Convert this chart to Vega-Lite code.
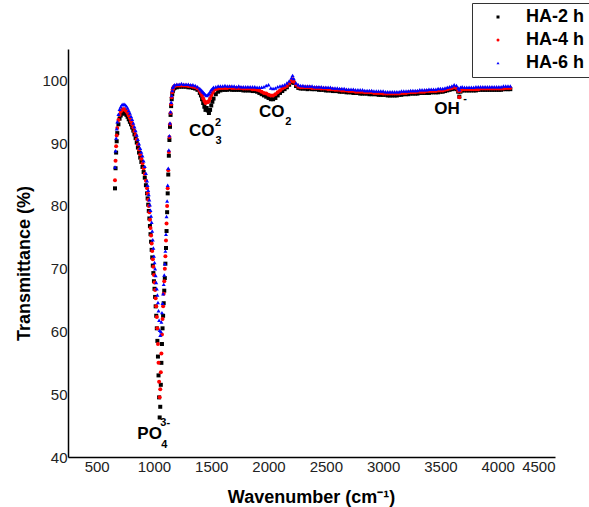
{
"$schema": "https://vega.github.io/schema/vega-lite/v6.json",
"width": 487, "height": 408,
"autosize": {"type": "none"},
"padding": {"left": 68, "top": 49, "right": 34, "bottom": 50},
"background": "white",
"config": {
  "view": {"stroke": null},
  "font": "Liberation Sans",
  "axis": {"grid": false, "ticks": false, "domainColor": "#000", "domainWidth": 1.5, "labelFont": "Liberation Sans", "labelFontSize": 15, "labelColor": "#222", "titleFont": "Liberation Sans", "titleFontSize": 18, "titleFontWeight": "bold", "titleColor": "#000"},
  "legend": {"strokeColor": "#333", "padding": 5, "labelFont": "Liberation Sans", "labelFontSize": 18, "labelFontWeight": "bold", "labelColor": "#000", "symbolSize": 9, "rowPadding": 5, "symbolOffset": 12, "labelOffset": 19, "fillColor": "white"}
},
"datasets": {
"spec": [
{"w":660,"h2":82.8,"h4":84.1,"h6":86.2},
{"w":665,"h2":86.0,"h4":87.2,"h6":88.8},
{"w":670,"h2":88.5,"h4":89.5,"h6":90.8},
{"w":675,"h2":90.3,"h4":91.2,"h6":92.3},
{"w":680,"h2":91.6,"h4":92.4,"h6":93.4},
{"w":690,"h2":93.0,"h4":93.7,"h6":94.6},
{"w":700,"h2":93.9,"h4":94.5,"h6":95.4},
{"w":710,"h2":94.4,"h4":95.0,"h6":95.8},
{"w":720,"h2":94.7,"h4":95.3,"h6":96.1},
{"w":730,"h2":94.8,"h4":95.4,"h6":96.2},
{"w":740,"h2":94.8,"h4":95.4,"h6":96.2},
{"w":750,"h2":94.7,"h4":95.3,"h6":96.1},
{"w":760,"h2":94.5,"h4":95.1,"h6":95.9},
{"w":770,"h2":94.2,"h4":94.8,"h6":95.6},
{"w":780,"h2":93.8,"h4":94.4,"h6":95.2},
{"w":790,"h2":93.4,"h4":94.0,"h6":94.8},
{"w":800,"h2":93.0,"h4":93.5,"h6":94.3},
{"w":810,"h2":92.5,"h4":93.0,"h6":93.8},
{"w":820,"h2":92.0,"h4":92.5,"h6":93.2},
{"w":830,"h2":91.4,"h4":91.9,"h6":92.6},
{"w":840,"h2":90.8,"h4":91.3,"h6":92.0},
{"w":850,"h2":90.1,"h4":90.6,"h6":91.3},
{"w":860,"h2":89.3,"h4":89.8,"h6":90.6},
{"w":870,"h2":88.5,"h4":89.0,"h6":89.9},
{"w":880,"h2":87.7,"h4":88.2,"h6":89.2},
{"w":890,"h2":87.0,"h4":87.5,"h6":88.6},
{"w":900,"h2":86.2,"h4":86.8,"h6":88.0},
{"w":910,"h2":85.4,"h4":86.0,"h6":87.2},
{"w":920,"h2":84.5,"h4":85.1,"h6":86.3},
{"w":930,"h2":83.3,"h4":84.0,"h6":85.2},
{"w":940,"h2":82.0,"h4":82.8,"h6":84.0},
{"w":945,"h2":81.2,"h4":82.0,"h6":83.3},
{"w":950,"h2":80.2,"h4":81.0,"h6":82.5},
{"w":955,"h2":79.2,"h4":80.0,"h6":81.8},
{"w":960,"h2":78.0,"h4":79.0,"h6":81.0},
{"w":965,"h2":76.8,"h4":77.8,"h6":80.2},
{"w":970,"h2":75.5,"h4":76.5,"h6":79.3},
{"w":975,"h2":74.3,"h4":75.3,"h6":78.4},
{"w":980,"h2":73.0,"h4":74.0,"h6":77.4},
{"w":985,"h2":71.8,"h4":72.8,"h6":76.0},
{"w":990,"h2":70.5,"h4":71.5,"h6":74.6},
{"w":995,"h2":69.3,"h4":70.3,"h6":73.3},
{"w":1000,"h2":68.0,"h4":69.0,"h6":72.0},
{"w":1005,"h2":66.8,"h4":67.8,"h6":71.0},
{"w":1010,"h2":65.5,"h4":66.6,"h6":70.0},
{"w":1015,"h2":64.0,"h4":65.3,"h6":68.9},
{"w":1020,"h2":62.5,"h4":64.0,"h6":67.8},
{"w":1025,"h2":60.5,"h4":62.3,"h6":66.8},
{"w":1030,"h2":58.5,"h4":60.5,"h6":65.8},
{"w":1035,"h2":56.0,"h4":58.0,"h6":64.6},
{"w":1040,"h2":53.0,"h4":55.0,"h6":63.3},
{"w":1045,"h2":49.5,"h4":52.0,"h6":61.8},
{"w":1050,"h2":46.3,"h4":49.5,"h6":60.2},
{"w":1055,"h2":48.0,"h4":50.8,"h6":59.4},
{"w":1060,"h2":51.5,"h4":53.5,"h6":60.0},
{"w":1065,"h2":55.0,"h4":56.5,"h6":61.5},
{"w":1070,"h2":58.0,"h4":59.5,"h6":63.0},
{"w":1075,"h2":60.5,"h4":62.0,"h6":64.5},
{"w":1080,"h2":62.5,"h4":64.0,"h6":66.0},
{"w":1085,"h2":64.5,"h4":66.0,"h6":67.5},
{"w":1090,"h2":66.5,"h4":68.0,"h6":69.0},
{"w":1095,"h2":68.5,"h4":70.0,"h6":70.8},
{"w":1100,"h2":70.8,"h4":72.0,"h6":72.8},
{"w":1105,"h2":73.3,"h4":74.5,"h6":75.5},
{"w":1110,"h2":76.0,"h4":77.2,"h6":78.3},
{"w":1115,"h2":79.0,"h4":80.0,"h6":80.8},
{"w":1120,"h2":82.0,"h4":82.8,"h6":83.3},
{"w":1125,"h2":85.0,"h4":85.7,"h6":86.0},
{"w":1130,"h2":88.0,"h4":88.6,"h6":88.9},
{"w":1135,"h2":90.5,"h4":91.0,"h6":91.2},
{"w":1140,"h2":92.6,"h4":93.0,"h6":93.2},
{"w":1145,"h2":94.5,"h4":94.8,"h6":95.0},
{"w":1150,"h2":95.9,"h4":96.2,"h6":96.5},
{"w":1155,"h2":97.0,"h4":97.3,"h6":97.6},
{"w":1160,"h2":97.8,"h4":98.1,"h6":98.4},
{"w":1165,"h2":98.3,"h4":98.6,"h6":98.9},
{"w":1170,"h2":98.6,"h4":98.9,"h6":99.1},
{"w":1180,"h2":98.8,"h4":99.1,"h6":99.3},
{"w":1200,"h2":98.9,"h4":99.2,"h6":99.4},
{"w":1220,"h2":99.0,"h4":99.2,"h6":99.4},
{"w":1240,"h2":99.0,"h4":99.2,"h6":99.5},
{"w":1260,"h2":99.0,"h4":99.2,"h6":99.4},
{"w":1280,"h2":99.0,"h4":99.2,"h6":99.4},
{"w":1300,"h2":98.9,"h4":99.1,"h6":99.4},
{"w":1320,"h2":98.9,"h4":99.1,"h6":99.3},
{"w":1340,"h2":98.8,"h4":99.0,"h6":99.3},
{"w":1360,"h2":98.7,"h4":98.9,"h6":99.2},
{"w":1380,"h2":98.5,"h4":98.7,"h6":99.0},
{"w":1400,"h2":98.0,"h4":98.3,"h6":98.7},
{"w":1410,"h2":97.6,"h4":98.0,"h6":98.5},
{"w":1420,"h2":97.0,"h4":97.6,"h6":98.3},
{"w":1430,"h2":96.4,"h4":97.1,"h6":98.1},
{"w":1440,"h2":95.8,"h4":96.7,"h6":97.9},
{"w":1450,"h2":95.3,"h4":96.4,"h6":97.7},
{"w":1460,"h2":95.6,"h4":96.5,"h6":97.6},
{"w":1470,"h2":95.2,"h4":96.5,"h6":97.7},
{"w":1480,"h2":94.8,"h4":96.7,"h6":97.9},
{"w":1490,"h2":95.3,"h4":97.1,"h6":98.2},
{"w":1500,"h2":96.0,"h4":97.6,"h6":98.5},
{"w":1510,"h2":96.6,"h4":98.0,"h6":98.7},
{"w":1520,"h2":97.1,"h4":98.3,"h6":98.9},
{"w":1540,"h2":97.8,"h4":98.6,"h6":99.0},
{"w":1560,"h2":98.2,"h4":98.7,"h6":99.1},
{"w":1580,"h2":98.4,"h4":98.8,"h6":99.1},
{"w":1600,"h2":98.5,"h4":98.8,"h6":99.1},
{"w":1620,"h2":98.5,"h4":98.8,"h6":99.2},
{"w":1640,"h2":98.5,"h4":98.8,"h6":99.1},
{"w":1660,"h2":98.6,"h4":98.9,"h6":99.1},
{"w":1680,"h2":98.5,"h4":98.8,"h6":99.1},
{"w":1700,"h2":98.5,"h4":98.8,"h6":99.1},
{"w":1720,"h2":98.5,"h4":98.8,"h6":99.0},
{"w":1740,"h2":98.5,"h4":98.8,"h6":99.1},
{"w":1760,"h2":98.5,"h4":98.8,"h6":99.0},
{"w":1780,"h2":98.4,"h4":98.7,"h6":99.0},
{"w":1800,"h2":98.4,"h4":98.7,"h6":99.0},
{"w":1820,"h2":98.4,"h4":98.7,"h6":99.0},
{"w":1840,"h2":98.4,"h4":98.7,"h6":99.0},
{"w":1860,"h2":98.3,"h4":98.6,"h6":99.0},
{"w":1880,"h2":98.3,"h4":98.6,"h6":99.0},
{"w":1900,"h2":98.2,"h4":98.5,"h6":98.9},
{"w":1920,"h2":98.0,"h4":98.4,"h6":98.9},
{"w":1940,"h2":97.8,"h4":98.2,"h6":98.9},
{"w":1960,"h2":97.6,"h4":98.0,"h6":99.0},
{"w":1980,"h2":97.4,"h4":97.9,"h6":99.2},
{"w":2000,"h2":97.2,"h4":97.7,"h6":99.3},
{"w":2020,"h2":97.0,"h4":97.6,"h6":98.8},
{"w":2040,"h2":97.0,"h4":97.6,"h6":98.7},
{"w":2060,"h2":97.2,"h4":97.8,"h6":98.8},
{"w":2080,"h2":97.6,"h4":98.1,"h6":99.0},
{"w":2100,"h2":98.0,"h4":98.4,"h6":99.1},
{"w":2120,"h2":98.3,"h4":98.7,"h6":99.2},
{"w":2140,"h2":98.6,"h4":98.9,"h6":99.3},
{"w":2160,"h2":98.9,"h4":99.1,"h6":99.6},
{"w":2180,"h2":99.3,"h4":99.5,"h6":99.9},
{"w":2200,"h2":99.7,"h4":99.9,"h6":100.4},
{"w":2210,"h2":99.9,"h4":100.2,"h6":100.8},
{"w":2220,"h2":99.6,"h4":99.8,"h6":100.3},
{"w":2240,"h2":99.1,"h4":99.3,"h6":99.6},
{"w":2260,"h2":98.8,"h4":99.0,"h6":99.3},
{"w":2280,"h2":98.7,"h4":98.9,"h6":99.2},
{"w":2300,"h2":98.7,"h4":98.9,"h6":99.2},
{"w":2320,"h2":98.7,"h4":98.9,"h6":99.1},
{"w":2340,"h2":98.6,"h4":98.9,"h6":99.1},
{"w":2360,"h2":98.7,"h4":98.9,"h6":99.1},
{"w":2380,"h2":98.6,"h4":98.8,"h6":99.1},
{"w":2400,"h2":98.6,"h4":98.8,"h6":99.0},
{"w":2420,"h2":98.6,"h4":98.8,"h6":99.0},
{"w":2440,"h2":98.5,"h4":98.8,"h6":99.0},
{"w":2460,"h2":98.5,"h4":98.7,"h6":99.0},
{"w":2480,"h2":98.5,"h4":98.7,"h6":98.9},
{"w":2500,"h2":98.4,"h4":98.7,"h6":98.9},
{"w":2520,"h2":98.4,"h4":98.6,"h6":98.9},
{"w":2540,"h2":98.4,"h4":98.6,"h6":98.9},
{"w":2560,"h2":98.3,"h4":98.6,"h6":98.8},
{"w":2580,"h2":98.3,"h4":98.5,"h6":98.8},
{"w":2600,"h2":98.3,"h4":98.5,"h6":98.8},
{"w":2620,"h2":98.2,"h4":98.5,"h6":98.7},
{"w":2640,"h2":98.2,"h4":98.4,"h6":98.7},
{"w":2660,"h2":98.2,"h4":98.4,"h6":98.7},
{"w":2680,"h2":98.1,"h4":98.4,"h6":98.6},
{"w":2700,"h2":98.1,"h4":98.3,"h6":98.6},
{"w":2720,"h2":98.1,"h4":98.3,"h6":98.6},
{"w":2740,"h2":98.0,"h4":98.3,"h6":98.6},
{"w":2760,"h2":98.0,"h4":98.2,"h6":98.5},
{"w":2780,"h2":98.0,"h4":98.2,"h6":98.5},
{"w":2800,"h2":97.9,"h4":98.2,"h6":98.5},
{"w":2820,"h2":97.9,"h4":98.2,"h6":98.5},
{"w":2840,"h2":97.9,"h4":98.1,"h6":98.4},
{"w":2860,"h2":97.9,"h4":98.1,"h6":98.4},
{"w":2880,"h2":97.8,"h4":98.1,"h6":98.4},
{"w":2900,"h2":97.8,"h4":98.1,"h6":98.4},
{"w":2920,"h2":97.8,"h4":98.0,"h6":98.3},
{"w":2940,"h2":97.8,"h4":98.0,"h6":98.3},
{"w":2960,"h2":97.7,"h4":98.0,"h6":98.3},
{"w":2980,"h2":97.7,"h4":98.0,"h6":98.3},
{"w":3000,"h2":97.7,"h4":97.9,"h6":98.3},
{"w":3020,"h2":97.7,"h4":97.9,"h6":98.2},
{"w":3040,"h2":97.6,"h4":97.9,"h6":98.2},
{"w":3060,"h2":97.6,"h4":97.9,"h6":98.2},
{"w":3080,"h2":97.6,"h4":97.9,"h6":98.2},
{"w":3100,"h2":97.6,"h4":97.9,"h6":98.2},
{"w":3120,"h2":97.6,"h4":97.9,"h6":98.2},
{"w":3140,"h2":97.7,"h4":97.9,"h6":98.2},
{"w":3160,"h2":97.7,"h4":98.0,"h6":98.3},
{"w":3180,"h2":97.8,"h4":98.0,"h6":98.3},
{"w":3200,"h2":97.8,"h4":98.0,"h6":98.3},
{"w":3220,"h2":97.8,"h4":98.1,"h6":98.3},
{"w":3240,"h2":97.9,"h4":98.1,"h6":98.4},
{"w":3260,"h2":97.9,"h4":98.1,"h6":98.4},
{"w":3280,"h2":97.9,"h4":98.1,"h6":98.4},
{"w":3300,"h2":97.9,"h4":98.2,"h6":98.4},
{"w":3320,"h2":98.0,"h4":98.2,"h6":98.5},
{"w":3340,"h2":98.0,"h4":98.2,"h6":98.5},
{"w":3360,"h2":98.0,"h4":98.2,"h6":98.5},
{"w":3380,"h2":98.0,"h4":98.3,"h6":98.5},
{"w":3400,"h2":98.0,"h4":98.3,"h6":98.6},
{"w":3420,"h2":98.1,"h4":98.3,"h6":98.6},
{"w":3440,"h2":98.1,"h4":98.3,"h6":98.6},
{"w":3460,"h2":98.1,"h4":98.3,"h6":98.6},
{"w":3480,"h2":98.1,"h4":98.4,"h6":98.7},
{"w":3500,"h2":98.2,"h4":98.4,"h6":98.7},
{"w":3520,"h2":98.2,"h4":98.4,"h6":98.7},
{"w":3540,"h2":98.3,"h4":98.5,"h6":98.8},
{"w":3560,"h2":98.4,"h4":98.6,"h6":98.9},
{"w":3580,"h2":98.5,"h4":98.7,"h6":99.0},
{"w":3600,"h2":98.6,"h4":98.8,"h6":99.1},
{"w":3620,"h2":98.7,"h4":98.9,"h6":99.3},
{"w":3640,"h2":98.6,"h4":98.8,"h6":99.2},
{"w":3655,"h2":98.2,"h4":98.3,"h6":98.8},
{"w":3665,"h2":97.4,"h4":97.3,"h6":98.5},
{"w":3675,"h2":98.2,"h4":98.3,"h6":98.9},
{"w":3690,"h2":98.4,"h4":98.6,"h6":99.0},
{"w":3710,"h2":98.4,"h4":98.6,"h6":98.9},
{"w":3730,"h2":98.4,"h4":98.6,"h6":98.9},
{"w":3750,"h2":98.4,"h4":98.6,"h6":98.9},
{"w":3770,"h2":98.4,"h4":98.6,"h6":98.9},
{"w":3790,"h2":98.4,"h4":98.6,"h6":98.9},
{"w":3810,"h2":98.4,"h4":98.6,"h6":99.0},
{"w":3830,"h2":98.5,"h4":98.6,"h6":99.0},
{"w":3850,"h2":98.5,"h4":98.7,"h6":99.0},
{"w":3870,"h2":98.5,"h4":98.7,"h6":99.0},
{"w":3890,"h2":98.5,"h4":98.7,"h6":99.0},
{"w":3910,"h2":98.5,"h4":98.7,"h6":99.0},
{"w":3930,"h2":98.5,"h4":98.7,"h6":99.0},
{"w":3950,"h2":98.5,"h4":98.7,"h6":99.0},
{"w":3970,"h2":98.5,"h4":98.7,"h6":99.0},
{"w":3990,"h2":98.5,"h4":98.7,"h6":99.0},
{"w":4010,"h2":98.5,"h4":98.7,"h6":99.0},
{"w":4030,"h2":98.5,"h4":98.7,"h6":99.0},
{"w":4050,"h2":98.6,"h4":98.7,"h6":99.1},
{"w":4070,"h2":98.6,"h4":98.8,"h6":99.1},
{"w":4090,"h2":98.6,"h4":98.8,"h6":99.1},
{"w":4110,"h2":98.6,"h4":98.8,"h6":99.1}
],
"annMain": [
{"t":"PO","w":962,"T":43.7},
{"t":"CO","w":1417,"T":91.9},
{"t":"CO","w":2028,"T":94.9},
{"t":"OH","w":3557,"T":95.4}
],
"annSmall": [
{"t":"3-","w":1098,"T":45.4},
{"t":"4","w":1090,"T":41.9},
{"t":"2","w":1559,"T":93.2},
{"t":"3","w":1563,"T":90.3},
{"t":"2","w":2173,"T":93.4},
{"t":"-","w":3715,"T":97.0}
]
},
"layer": [
{
  "data": {"name": "spec"},
  "transform": [{"fold": ["h2", "h4", "h6"], "as": ["s", "T"]}],
  "mark": {"type": "point", "filled": true, "size": 16, "opacity": 1},
  "encoding": {
    "x": {"field": "w", "type": "quantitative", "scale": {"domain": [250, 4500], "nice": false, "zero": false},
          "axis": {"values": [500,1000,1500,2000,2500,3000,3500,4000,4500], "format": "d", "labelPadding": 2, "title": "Wavenumber (cm⁻¹)", "titleX": 243, "titleY": 40, "titleBaseline": "middle", "titleAlign": "center"}},
    "y": {"field": "T", "type": "quantitative", "scale": {"domain": [40, 105], "nice": false, "zero": false},
          "axis": {"values": [40,50,60,70,80,90,100], "format": "d", "labelPadding": 1, "title": "Transmittance (%)", "titleX": -44, "titleY": 214, "titleBaseline": "middle", "titleAlign": "center", "titleAngle": -90}},
    "color": {"field": "s", "type": "nominal", "scale": {"domain": ["h2", "h4", "h6"], "range": ["#000000", "#ff0000", "#0000ff"]},
              "legend": {"orient": "none", "legendX": 404, "legendY": -46, "title": null, "labelExpr": "datum.label == 'h2' ? 'HA-2 h' : datum.label == 'h4' ? 'HA-4 h' : 'HA-6 h'"}},
    "shape": {"field": "s", "type": "nominal", "scale": {"domain": ["h2", "h4", "h6"], "range": ["square", "circle", "triangle-up"]},
              "legend": {"orient": "none", "legendX": 404, "legendY": -46, "title": null, "labelExpr": "datum.label == 'h2' ? 'HA-2 h' : datum.label == 'h4' ? 'HA-4 h' : 'HA-6 h'"}},
    "order": {"field": "s", "sort": "ascending"}
  }
},
{
  "data": {"name": "annMain"},
  "mark": {"type": "text", "font": "Liberation Sans", "fontWeight": "bold", "fontSize": 17, "align": "center", "baseline": "middle", "color": "#000"},
  "encoding": {"x": {"field": "w", "type": "quantitative"}, "y": {"field": "T", "type": "quantitative"}, "text": {"field": "t"}}
},
{
  "data": {"name": "annSmall"},
  "mark": {"type": "text", "font": "Liberation Sans", "fontWeight": "bold", "fontSize": 11, "align": "center", "baseline": "middle", "color": "#000"},
  "encoding": {"x": {"field": "w", "type": "quantitative"}, "y": {"field": "T", "type": "quantitative"}, "text": {"field": "t"}}
}
]
}
